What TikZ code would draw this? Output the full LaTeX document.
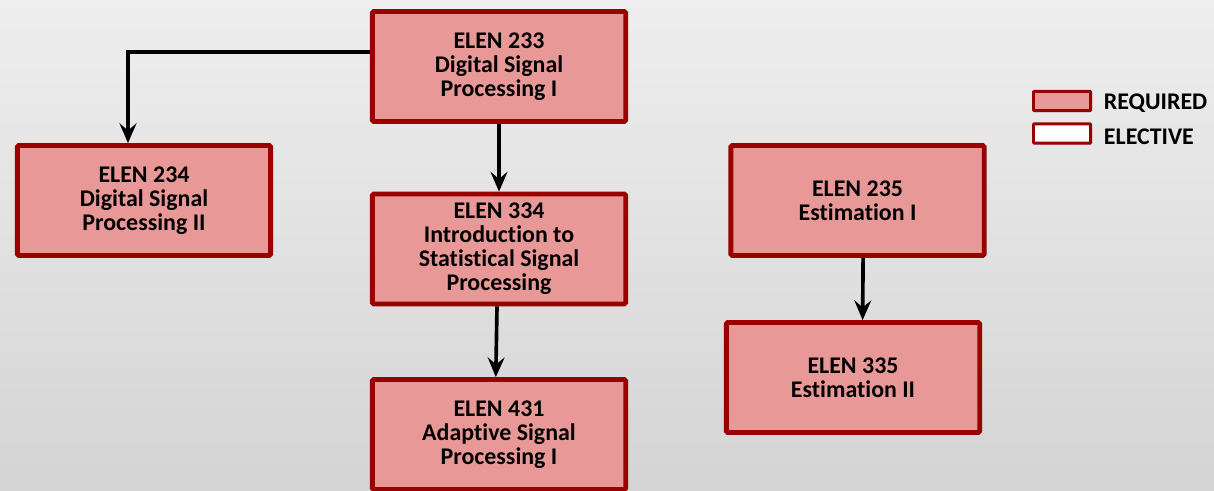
\documentclass[tikz,border=0pt]{standalone}
\usepackage{fontspec}
\setmainfont{Carlito}[Ligatures = NoCommon]
\usetikzlibrary{arrows.meta, shadows}

\definecolor{reqfill}{RGB}{233,152,152}
\definecolor{reqdraw}{RGB}{155,0,0}
\definecolor{bgtop}{RGB}{238,238,238}
\definecolor{bgbottom}{RGB}{212,212,212}

\begin{document}
\begin{tikzpicture}[x = 0.025cm, y = -0.025cm,
		course/.style = {draw = reqdraw, fill = reqfill, line width = 3.4pt, rounded corners = 1pt,
			minimum width = 6.33cm, minimum height = 2.75cm, align = center,
			font = \fontsize{17}{17}\selectfont\bfseries,
			drop shadow = {shadow xshift = 1.2pt, shadow yshift = -1.2pt, opacity = 0.25}},
		legendbox/.style = {draw = reqdraw, line width = 2pt, rounded corners = 0.5pt,
			minimum width = 1.43cm, minimum height = 0.48cm,
			drop shadow = {shadow xshift = 1pt, shadow yshift = -1pt, opacity = 0.25}},
		legendtext/.style = {anchor = west, font = \fontsize{17}{17}\selectfont\bfseries},
		arr/.style = {line width = 2.6pt, -{Stealth[length = 14pt, width = 12pt, inset = 5pt]}}]

			% background
			\useasboundingbox (0,0) rectangle (1214,491);
			\shade [top color = bgtop, bottom color = bgbottom] (0,0) rectangle (1214,491);

			% courses
			\begin{scope}
				\node [course] (e233) at (499,66.5) {ELEN 233\\Digital Signal\\Processing I};
				\node [course] (e234) at (144,200.5) {ELEN 234\\Digital Signal\\Processing II};
				\node [course] (e334) at (499,249) {ELEN 334\\Introduction to\\Statistical Signal\\Processing};
				\node [course] (e431) at (499,434.5) {ELEN 431\\Adaptive Signal\\Processing I};
				\node [course] (e235) at (857.5,200.5) {ELEN 235\\Estimation I};
				\node [course] (e335) at (853,377.5) {ELEN 335\\Estimation II};
			\end{scope}

			% legend
			\begin{scope}
				\node [legendbox, fill = reqfill] (req) at (1062,101) {};
				\node [legendbox, fill = white] (elec) at (1062,133.5) {};
				\node [legendtext] (reqtext) at (1099,103) {REQUIRED};
				\node [legendtext] (electext) at (1099,137) {ELECTIVE};
			\end{scope}

			% prerequisites
			\begin{scope}[arr]
				\draw ([yshift = 0.36cm]e233.west) -| ([xshift = -0.4cm]e234.north);
				\draw (e233) -- (e334);
				\draw ([xshift = -0.05cm]e334.south) -- ([xshift = -0.08cm]e431.north);
				\draw ([xshift = 0.14cm]e235.south) -- ([xshift = 0.24cm]e335.north);
			\end{scope}
		\end{tikzpicture}
\end{document}
